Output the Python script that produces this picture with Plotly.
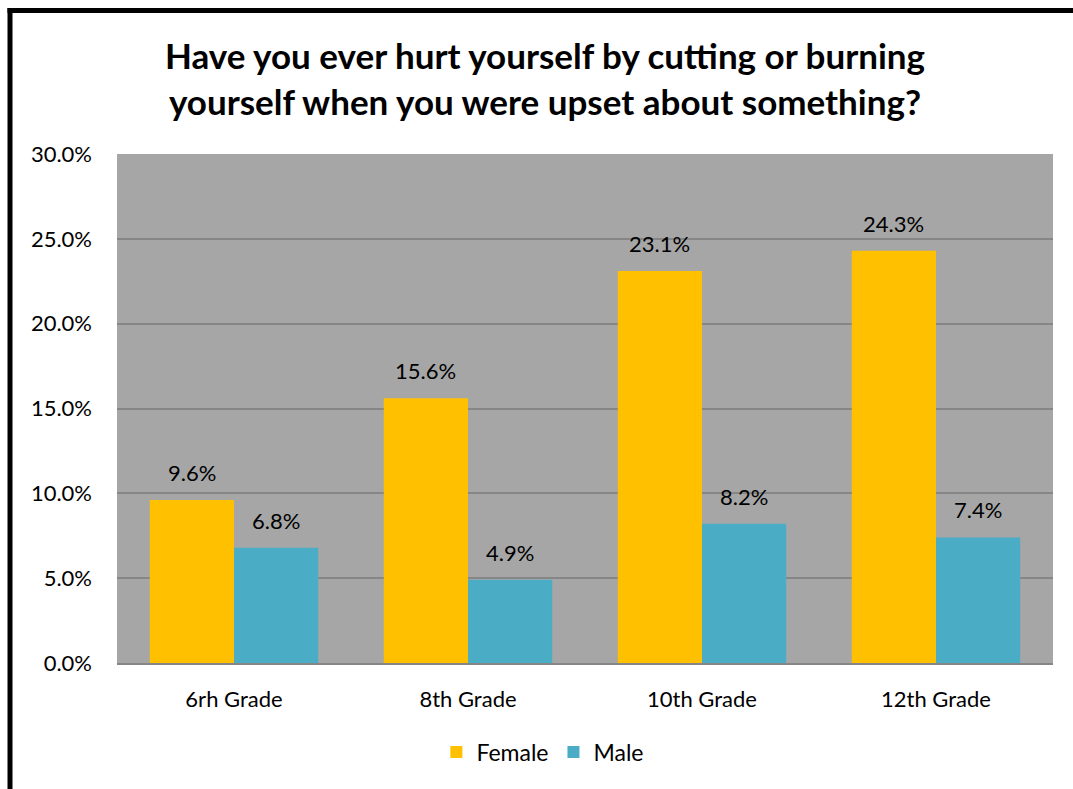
import plotly.graph_objects as go

# Survey results: share of students answering "yes", by grade and sex
grades = ["6rh Grade", "8th Grade", "10th Grade", "12th Grade"]
female = [0.096, 0.156, 0.231, 0.243]
male = [0.068, 0.049, 0.082, 0.074]
y_ticks = [0.0, 0.05, 0.10, 0.15, 0.20, 0.25, 0.30]

FONT = "Lato"
W, H = 1073, 789
M_L, M_R, M_T, M_B = 117, 20, 154, 126
PLOT_W = W - M_L - M_R
PLOT_H = H - M_T - M_B
BARGAP = 0.28

fig = go.Figure()
fig.add_trace(go.Bar(name="Female", x=grades, y=female, marker_color="#FFC000",
                     marker_line_width=0))
fig.add_trace(go.Bar(name="Male", x=grades, y=male, marker_color="#4BACC6",
                     marker_line_width=0))

# value labels above each bar
bar_w = PLOT_W / len(grades) * (1 - BARGAP) / 2
annotations = []
for series, shift in ((female, -bar_w / 2), (male, bar_w / 2)):
    for g, v in zip(grades, series):
        annotations.append(dict(
            x=g, y=v, xref="x", yref="y", text=f"{v * 100:.1f}%",
            showarrow=False, xshift=shift, yshift=12, yanchor="bottom",
            font=dict(family=FONT, size=22, color="#000000")))

def px_x(p):
    return (p - M_L) / PLOT_W

def px_y(p):
    return (H - M_B - p) / PLOT_H

# heavy outer frame on the left and top edges
shapes = [dict(type="line", xref="paper", yref="paper",
               x0=px_x(10), y0=px_y(H + 5), x1=px_x(10), y1=px_y(8),
               line=dict(color="#000000", width=5)),
          dict(type="line", xref="paper", yref="paper",
               x0=px_x(7.5), y0=px_y(10.5), x1=px_x(W + 5), y1=px_y(10.5),
               line=dict(color="#000000", width=5))]

fig.update_layout(
    width=W, height=H,
    margin=dict(l=M_L, r=M_R, t=M_T, b=M_B),
    paper_bgcolor="#FFFFFF",
    plot_bgcolor="#A6A6A6",
    barmode="group",
    bargap=BARGAP,
    bargroupgap=0,
    font=dict(family=FONT, size=22, color="#000000"),
    title=dict(
        text="<b>Have you ever hurt yourself by cutting or burning<br>"
             "yourself when you were upset about something?</b>",
        x=545 / W, xanchor="center",
        y=1 - 69 / H, yanchor="middle",
        font=dict(family=FONT, size=35, color="#000000")),
    xaxis=dict(showgrid=False, ticks="", ticklabelstandoff=16,
               tickfont=dict(family=FONT, size=22),
               showline=True, linecolor="#868686", linewidth=2),
    yaxis=dict(range=[0, 0.30], tickvals=y_ticks, tickformat=".1%",
               showgrid=True, gridcolor="#868686", gridwidth=1.5,
               zeroline=False, ticks="", ticklabelstandoff=24,
               tickfont=dict(family=FONT, size=22)),
    legend=dict(orientation="h", x=0.455, xanchor="center",
                y=px_y(752), yanchor="middle",
                font=dict(family=FONT, size=23), itemwidth=30,
                traceorder="normal"),
    annotations=annotations,
    shapes=shapes,
)

fig.write_html("out.html")
